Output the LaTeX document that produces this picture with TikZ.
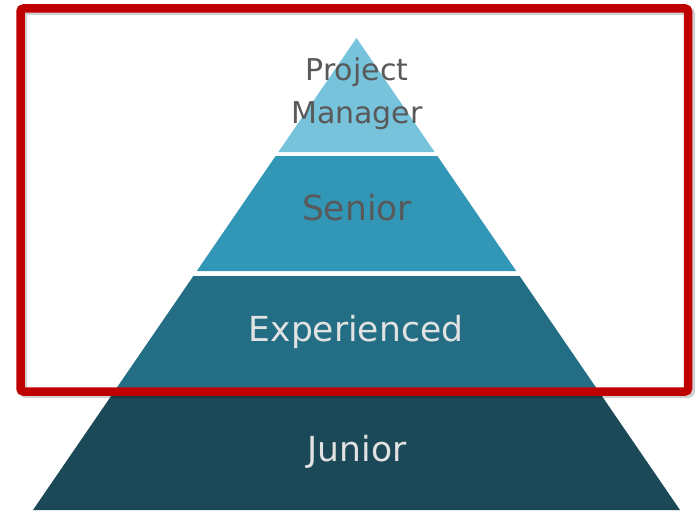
\documentclass[tikz,border=0pt]{standalone}
\usepackage{fontspec}
\setmainfont{DejaVu Sans}
\usetikzlibrary{positioning}
\definecolor{pmblue}{HTML}{78C3DC}
\definecolor{srblue}{HTML}{3296B6}
\definecolor{exblue}{HTML}{236E84}
\definecolor{jrblue}{HTML}{1B4957}
\definecolor{framered}{HTML}{C00000}
\definecolor{darktext}{HTML}{595959}
\definecolor{lighttext}{HTML}{E2E2E2}

\begin{document}
\begin{tikzpicture}[x=1pt, y=-1pt,
  layertext/.style={font=\fontsize{34.5}{43}\selectfont, align=center, inner sep=0pt}]
\useasboundingbox (0,0) rectangle (696,511);
% pyramid layers, apex at (356.5,38), base at y=510
\foreach \ya/\yb/\col in {38/152/pmblue, 156/271/srblue, 276/389/exblue, 393/510/jrblue}{
  \pgfmathsetmacro\wa{0.6854*(\ya-38)}
  \pgfmathsetmacro\wb{0.6854*(\yb-38)}
  \fill[\col] (356.5-\wa,\ya) -- (356.5+\wa,\ya) -- (356.5+\wb,\yb) -- (356.5-\wb,\yb) -- cycle;
}
% labels
\node[layertext, font=\fontsize{30}{43}\selectfont, text=darktext, anchor=base] (pm) at (357,123) {Project\\Manager};
\node[layertext, text=darktext, anchor=base] (sr) at (357,220) {Senior};
\node[layertext, text=lighttext, anchor=base] (ex) at (356,341) {Experienced};
\node[layertext, text=lighttext, anchor=base] (jr) at (357,461) {Junior};
% highlight frame with shadow
\draw[black, opacity=0.18, line width=8, rounded corners=3] (23,11) rectangle (691,394);
\draw[framered, line width=8.5, rounded corners=3] (20.5,8.5) rectangle (688,391.5);
\end{tikzpicture}
\end{document}
